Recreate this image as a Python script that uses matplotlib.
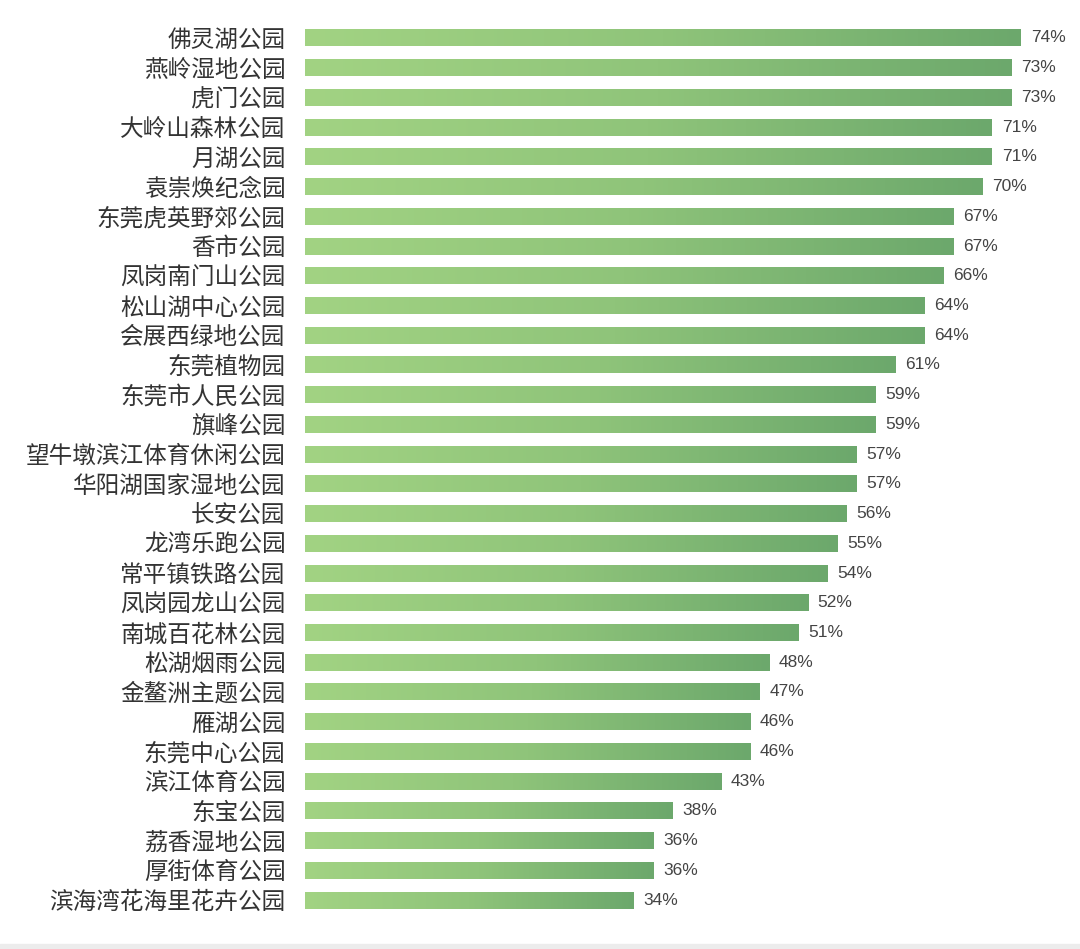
import numpy as np
import matplotlib.pyplot as plt
from matplotlib.colors import LinearSegmentedColormap
from matplotlib.patches import Rectangle

plt.rcParams['font.family'] = ['Noto Sans CJK SC', 'DejaVu Sans']

# park names and share (%)
parks = ['佛灵湖公园', '燕岭湿地公园', '虎门公园', '大岭山森林公园', '月湖公园',
         '袁崇焕纪念园', '东莞虎英野郊公园', '香市公园', '凤岗南门山公园', '松山湖中心公园',
         '会展西绿地公园', '东莞植物园', '东莞市人民公园', '旗峰公园', '望牛墩滨江体育休闲公园',
         '华阳湖国家湿地公园', '长安公园', '龙湾乐跑公园', '常平镇铁路公园', '凤岗园龙山公园',
         '南城百花林公园', '松湖烟雨公园', '金鳌洲主题公园', '雁湖公园', '东莞中心公园',
         '滨江体育公园', '东宝公园', '荔香湿地公园', '厚街体育公园', '滨海湾花海里花卉公园']
values = [74, 73, 73, 71, 71, 70, 67, 67, 66, 64, 64, 61, 59, 59, 57,
          57, 56, 55, 54, 52, 51, 48, 47, 46, 46, 43, 38, 36, 36, 34]

cmap = LinearSegmentedColormap.from_list('g', ['#a2d383', '#8fc47a', '#6ca86c'])
grad = np.linspace(0, 1, 256).reshape(1, -1)

fig = plt.figure(figsize=(10.8, 9.49), dpi=100)
# thin grey strip along the bottom edge
fig.patches.append(Rectangle((0, 0), 1, 0.005, transform=fig.transFigure,
                             color='#ececec', zorder=0))
ax = fig.add_axes([0.2824, 0.0359, 0.7176, 0.9398])

n = len(parks)
ypos = np.arange(n)[::-1]
h = 0.57
for y, v in zip(ypos, values):
    ax.imshow(grad, cmap=cmap, extent=[0, v, y - h / 2, y + h / 2],
              aspect='auto', interpolation='bicubic')
    ax.text(v + 1.0, y, f'{v}%', va='center', ha='left', fontsize=12.5,
            color='#444444', family=['Liberation Sans', 'DejaVu Sans'])

ax.set_xlim(0, 80.1)
ax.set_ylim(-0.5, n - 0.5)
ax.set_yticks(ypos)
ax.set_yticklabels(parks, fontsize=17, color='#333333')
ax.tick_params(axis='y', length=0, pad=14)
ax.set_xticks([])
for s in ax.spines.values():
    s.set_visible(False)

fig.savefig('out.png', dpi=100)
